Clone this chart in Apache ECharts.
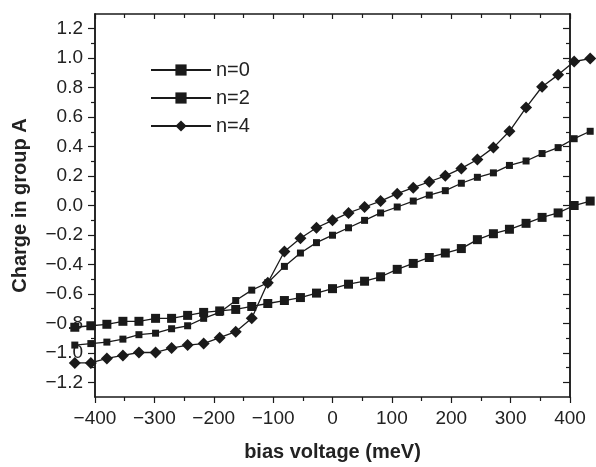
<!DOCTYPE html>
<html>
<head>
<meta charset="utf-8">
<script src="https://cdn.jsdelivr.net/npm/echarts@6/dist/echarts.min.js"></script>
<style>
html,body{margin:0;padding:0;background:#fff;}
#chart{width:596px;height:467px;}
</style>
</head>
<body>
<div id="chart"></div>
<script>
// bias voltage (meV) sample points
var biasVoltage = [-434, -407, -380, -353, -326, -298, -271, -244, -217, -190, -163, -136, -109, -81, -54, -27, 0, 27, 54, 81, 109, 136, 163, 190, 217, 244, 271, 298, 326, 353, 380, 407, 434];
// Charge in group A
var chargeN0 = [-0.81, -0.80, -0.79, -0.77, -0.77, -0.75, -0.75, -0.73, -0.71, -0.70, -0.69, -0.67, -0.65, -0.63, -0.61, -0.58, -0.55, -0.52, -0.50, -0.47, -0.42, -0.38, -0.34, -0.31, -0.28, -0.22, -0.18, -0.15, -0.11, -0.07, -0.04, 0.01, 0.04];
var chargeN2 = [-0.93, -0.92, -0.91, -0.89, -0.86, -0.85, -0.82, -0.80, -0.75, -0.71, -0.63, -0.56, -0.51, -0.40, -0.31, -0.24, -0.19, -0.14, -0.09, -0.04, 0.00, 0.04, 0.08, 0.11, 0.16, 0.20, 0.23, 0.28, 0.31, 0.36, 0.40, 0.46, 0.51];
var chargeN4 = [-1.05, -1.05, -1.02, -1.00, -0.98, -0.98, -0.95, -0.93, -0.92, -0.88, -0.84, -0.75, -0.51, -0.30, -0.21, -0.14, -0.09, -0.04, 0.00, 0.04, 0.09, 0.13, 0.17, 0.21, 0.26, 0.32, 0.40, 0.51, 0.67, 0.81, 0.89, 0.98, 1.00];
var seriesNames = ['n=0', 'n=2', 'n=4'];
var xTickStep = 100;
var yMajorTicks = [-1.2, -1.0, -0.8, -0.6, -0.4, -0.2, 0.0, 0.2, 0.4, 0.6, 0.8, 1.0, 1.2];
var yMinorTicks = [-1.1, -0.9, -0.7, -0.5, -0.3, -0.1, 0.1, 0.3, 0.5, 0.7, 0.9, 1.1];

function pairs(ys){ return ys.map(function(y,i){ return [biasVoltage[i], y]; }); }
function minus(s){ return String(s).replace('-', '\u2212'); }

var ink = '#1a1a1a';
var txt = '#222';
var font = '"Liberation Sans", Arial, Helvetica, sans-serif';

// frame: -400..400 spans x 95..570; data grid spans -440..440 on same scale
var pxPerUnit = 475 / 800;
var dataLeft = 95 - 40 * pxPerUnit;
var dataWidth = 880 * pxPerUnit;

function yAx(pos, ticks, len, labels){
  return {
    type:'value', gridIndex:0, position:pos, min:-1.3, max:1.3,
    axisLine:{show:true, onZero:false, lineStyle:{color:ink, width:1.5}},
    axisTick:{show:true, customValues:ticks, length:len, inside:pos==='right', lineStyle:{color:ink, width:1.2}},
    axisLabel:labels ? {show:true, customValues:ticks, margin:12, color:txt, fontSize:19, fontFamily:font,
      formatter:function(v){ return minus(v.toFixed(1)); }} : {show:false},
    splitLine:{show:false}
  };
}

var chart = echarts.init(document.getElementById('chart'), null, {renderer:'canvas'});
chart.setOption({
  animation:false,
  backgroundColor:'#fff',
  grid:[
    {left:95, right:26, top:14, bottom:67},
    {left:dataLeft, width:dataWidth, top:14, bottom:67}
  ],
  legend:{
    show:true, orient:'vertical', left:145, top:55,
    itemWidth:60, itemHeight:14, itemGap:8,
    data:seriesNames,
    textStyle:{color:txt, fontSize:20, fontFamily:font, lineHeight:20}
  },
  xAxis:[
    {type:'value', gridIndex:0, position:'bottom', min:-400, max:400, interval:xTickStep,
     name:'bias voltage (meV)', nameLocation:'middle', nameGap:45,
     nameTextStyle:{color:txt, fontSize:20, fontWeight:'bold', fontFamily:font},
     axisLine:{show:true, onZero:false, lineStyle:{color:ink, width:1.5}},
     axisTick:{show:true, length:6, lineStyle:{color:ink, width:1.2}},
     minorTick:{show:true, splitNumber:2, length:4, lineStyle:{color:ink, width:1.2}},
     axisLabel:{margin:12, color:txt, fontSize:19, fontFamily:font, formatter:function(v){ return minus(v); }},
     splitLine:{show:false}},
    {type:'value', gridIndex:0, position:'top', min:-400, max:400, interval:xTickStep,
     axisLine:{show:true, onZero:false, lineStyle:{color:ink, width:1.5}},
     axisTick:{show:true, inside:true, length:5, lineStyle:{color:ink, width:1.2}},
     minorTick:{show:true, splitNumber:2, length:4, lineStyle:{color:ink, width:1.2}},
     axisLabel:{show:false}, splitLine:{show:false}},
    {type:'value', gridIndex:1, min:-440, max:440, show:false}
  ],
  yAxis:[
    Object.assign(yAx('left', yMajorTicks, 7, true), {
      name:'Charge in group A', nameLocation:'middle', nameGap:65,
      nameTextStyle:{color:txt, fontSize:20, fontWeight:'bold', fontFamily:font}
    }),
    yAx('left', yMinorTicks, 4, false),
    yAx('right', yMajorTicks, 7, false),
    yAx('right', yMinorTicks, 4, false),
    {type:'value', gridIndex:1, min:-1.3, max:1.3, show:false}
  ],
  series:[
    {name:'n=0', type:'line', xAxisIndex:2, yAxisIndex:4, data:pairs(chargeN0), symbol:'rect', symbolSize:9, clip:false,
     lineStyle:{color:ink, width:1.3}, itemStyle:{color:ink}},
    {name:'n=2', type:'line', xAxisIndex:2, yAxisIndex:4, data:pairs(chargeN2), symbol:'rect', symbolSize:7, clip:false,
     lineStyle:{color:ink, width:1.3}, itemStyle:{color:ink}},
    {name:'n=4', type:'line', xAxisIndex:2, yAxisIndex:4, data:pairs(chargeN4), symbol:'diamond', symbolSize:12, clip:false,
     lineStyle:{color:ink, width:1.3}, itemStyle:{color:ink}}
  ]
});
</script>
</body>
</html>
